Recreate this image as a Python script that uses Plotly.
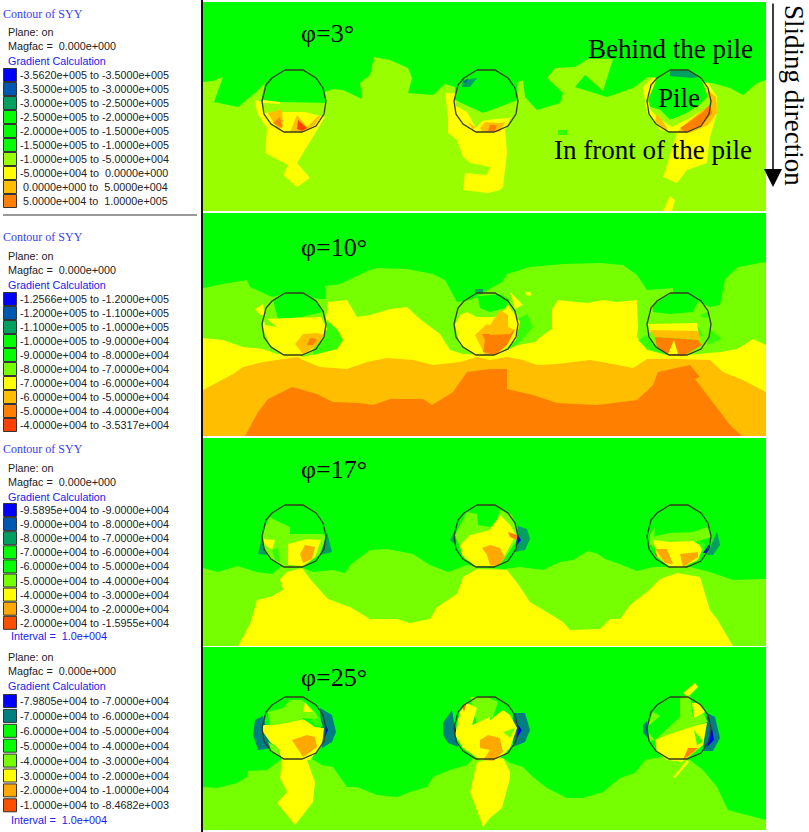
#!/usr/bin/env python3
import plotly.graph_objects as go

# colours of the contour bands
BLUE, NAVY, SEA, TEAL = '#0000ff', '#0058b0', '#00a060', '#007f80'
GREEN, MID, LIME1, LIME = '#00ff00', '#33ff00', '#99ff00', '#76ff00'
YEL, AMB, AMB2, ORG, RED = '#ffff00', '#ffbf00', '#ffa800', '#ff8000', '#ff4000'

# legend tables
leg1_labels = ['-3.5620e+005 to -3.5000e+005', '-3.5000e+005 to -3.0000e+005', '-3.0000e+005 to -2.5000e+005',
               '-2.5000e+005 to -2.0000e+005', '-2.0000e+005 to -1.5000e+005', '-1.5000e+005 to -1.0000e+005',
               '-1.0000e+005 to -5.0000e+004', '-5.0000e+004 to  0.0000e+000', ' 0.0000e+000 to  5.0000e+004',
               ' 5.0000e+004 to  1.0000e+005']
leg1_colors = [BLUE, NAVY, SEA, GREEN, GREEN, GREEN, LIME1, YEL, AMB, ORG]
leg2_labels = ['-1.2566e+005 to -1.2000e+005', '-1.2000e+005 to -1.1000e+005', '-1.1000e+005 to -1.0000e+005',
               '-1.0000e+005 to -9.0000e+004', '-9.0000e+004 to -8.0000e+004', '-8.0000e+004 to -7.0000e+004',
               '-7.0000e+004 to -6.0000e+004', '-6.0000e+004 to -5.0000e+004', '-5.0000e+004 to -4.0000e+004',
               '-4.0000e+004 to -3.5317e+004']
leg2_colors = [BLUE, NAVY, SEA, GREEN, GREEN, LIME, YEL, AMB, ORG, RED]
leg3_labels = ['-9.5895e+004 to -9.0000e+004', '-9.0000e+004 to -8.0000e+004', '-8.0000e+004 to -7.0000e+004',
               '-7.0000e+004 to -6.0000e+004', '-6.0000e+004 to -5.0000e+004', '-5.0000e+004 to -4.0000e+004',
               '-4.0000e+004 to -3.0000e+004', '-3.0000e+004 to -2.0000e+004', '-2.0000e+004 to -1.5955e+004']
leg3_colors = [BLUE, NAVY, SEA, GREEN, GREEN, LIME, YEL, AMB2, '#ff5000']
leg4_labels = ['-7.9805e+004 to -7.0000e+004', '-7.0000e+004 to -6.0000e+004', '-6.0000e+004 to -5.0000e+004',
               '-5.0000e+004 to -4.0000e+004', '-4.0000e+004 to -3.0000e+004', '-3.0000e+004 to -2.0000e+004',
               '-2.0000e+004 to -1.0000e+004', '-1.0000e+004 to -8.4682e+003']
leg4_colors = [BLUE, TEAL, GREEN, GREEN, LIME, YEL, AMB2, '#ff5000']

# pile outline, offsets from the pile centre
pile_dx = [-9, 9, 22, 29, 32, 30, 22, 8, -10, -23, -30, -32, -28, -22, -9]
pile_dy = [-31, -31, -23, -13, 0, 13, 25, 31, 31, 23, 13, 0, -16, -23, -31]
pile_x = [294, 486, 679]
pile_y = [101, 324, 536, 728]

# panel 1, phi = 3
p1_rect = [(203, 2), (766, 2), (766, 211), (203, 211)]
p1_halo_a = [(255, 100), (257, 113), (267, 128), (265, 153), (288, 165), (283, 175), (297, 187), (310, 178), (297, 163), (316, 132), (325, 117)]
p1_halo_b = [(445, 93), (448, 117), (448, 133), (457, 140), (463, 157), (470, 163), (490, 167), (487, 175), (465, 173), (463, 190), (488, 193), (500, 190), (503, 187), (507, 153), (505, 130), (512, 115), (512, 95)]
p1_halo_c = [(653, 77), (643, 87), (647, 113), (660, 130), (677, 133), (663, 177), (677, 183), (687, 170), (707, 163), (710, 137), (717, 113), (717, 97), (708, 83)]
p1_sliver = [(663, 211), (670, 196), (675, 200), (672, 211)]
p1_green = [(203, 82), (213, 81), (223, 77), (214, 102), (238, 107), (255, 93), (265, 83), (261, 102), (326, 103), (325, 92), (333, 89), (343, 90), (362, 99), (360, 83), (370, 75), (374, 57), (390, 60), (408, 68), (412, 78), (408, 93), (433, 95), (445, 84), (455, 87), (455, 100), (467, 107), (483, 113), (500, 108), (510, 103), (518, 100), (517, 83), (523, 80), (525, 97), (537, 110), (560, 103), (563, 93), (547, 78), (555, 68), (575, 67), (588, 59), (613, 59), (603, 91), (585, 75), (575, 87), (607, 97), (633, 88), (648, 77), (712, 83), (730, 88), (743, 95), (757, 83), (766, 80), (766, 2), (203, 2)]
p1_spot = [(558, 130), (567, 130), (567, 135), (558, 135)]
p1a_lime = [(261, 102), (326, 103), (322, 112), (283, 112), (265, 113)]
p1a_streak = [(263, 100), (280, 102), (280, 104), (263, 103)]
p1a_amb1 = [(268, 113), (282, 109), (283, 127), (278, 130)]
p1a_org1 = [(273, 123), (280, 117), (282, 128)]
p1a_amb2 = [(297, 115), (307, 127), (317, 117), (321, 115), (315, 125), (302, 132), (290, 132)]
p1a_red = [(297, 129), (298, 120), (307, 128), (302, 131)]
p1b_lime = [(455, 100), (483, 113), (518, 100), (510, 118), (495, 119), (482, 121), (476, 128), (467, 112), (456, 106)]
p1b_amb1 = [(480, 128), (485, 122), (500, 123), (505, 122), (500, 132), (483, 132)]
p1b_org = [(490, 125), (497, 125), (495, 131), (488, 131)]
p1b_amb2 = [(468, 122), (475, 127), (473, 130)]
p1b_sea = [(462, 87), (463, 80), (477, 78), (470, 87)]
p1b_navy = [(463, 83), (468, 78), (467, 82)]
p1c_amb1 = [(677, 132), (700, 112), (708, 90), (716, 97), (717, 113), (708, 125), (690, 133)]
p1c_org = [(680, 128), (703, 112), (710, 103), (712, 113), (702, 125), (685, 132)]
p1c_green = [(648, 100), (657, 78), (667, 72), (687, 70), (703, 83), (708, 97), (697, 107), (683, 115), (670, 120), (660, 110), (650, 107)]
p1c_lime = [(648, 107), (660, 110), (670, 120), (683, 115), (697, 107), (708, 97), (710, 105), (690, 118), (672, 127), (658, 118)]
p1c_amb2 = [(657, 113), (667, 128), (667, 130), (655, 122)]
p1c_sea = [(670, 71), (687, 70), (698, 77), (692, 78), (670, 76)]

# panel 2, phi = 10
p2_rect = [(203, 213), (766, 213), (766, 436), (203, 436)]
p2_lime = [(203, 288), (223, 284), (247, 280), (250, 287), (272, 297), (283, 294), (320, 299), (325, 299), (325, 286), (340, 284), (367, 271), (377, 268), (407, 269), (433, 274), (445, 280), (457, 302), (470, 300), (502, 282), (507, 274), (530, 267), (563, 264), (600, 263), (623, 265), (637, 275), (647, 290), (673, 288), (673, 292), (690, 298), (710, 307), (720, 305), (725, 279), (738, 267), (766, 262), (766, 436), (203, 436)]
p2_yellow = [(203, 338), (223, 340), (243, 347), (263, 349), (277, 354), (300, 355), (303, 357), (337, 349), (342, 340), (333, 325), (326, 319), (328, 302), (347, 300), (357, 317), (370, 315), (390, 309), (407, 307), (420, 319), (440, 334), (450, 350), (463, 354), (495, 355), (518, 345), (535, 342), (543, 335), (552, 329), (552, 309), (558, 300), (587, 303), (603, 300), (617, 302), (637, 300), (638, 327), (637, 337), (647, 350), (667, 355), (687, 355), (720, 352), (737, 349), (753, 339), (766, 345), (766, 436), (203, 436)]
p2_amber = [(203, 390), (233, 374), (243, 367), (263, 362), (297, 357), (303, 360), (320, 367), (347, 369), (367, 362), (387, 358), (413, 360), (433, 365), (460, 362), (477, 357), (490, 360), (507, 357), (523, 360), (537, 365), (557, 364), (590, 360), (613, 364), (633, 368), (647, 359), (677, 359), (710, 360), (723, 372), (743, 380), (766, 392), (766, 436), (203, 436)]
p2_orange = [(245, 436), (258, 412), (268, 399), (292, 387), (317, 394), (333, 402), (360, 403), (373, 405), (390, 399), (423, 399), (432, 405), (453, 392), (467, 372), (490, 369), (507, 369), (507, 389), (533, 395), (557, 403), (597, 405), (637, 400), (653, 385), (658, 372), (690, 365), (700, 377), (695, 379), (710, 399), (730, 425), (742, 436)]
p2a_green = [(273, 300), (283, 294), (302, 294), (315, 299), (323, 312), (300, 317), (278, 319)]
p2a_yel = [(263, 319), (300, 318), (321, 317), (327, 329), (313, 349), (303, 355), (283, 355), (270, 345), (263, 329)]
p2a_yel2 = [(255, 309), (263, 304), (265, 315), (260, 315)]
p2a_lime = [(263, 316), (277, 327), (265, 325)]
p2a_amb = [(295, 344), (303, 334), (317, 333), (324, 335), (315, 347), (303, 354)]
p2a_org = [(307, 345), (310, 338), (317, 339), (313, 345)]
p2a_mid = [(327, 322), (337, 329), (343, 340), (337, 349), (313, 355), (313, 347), (323, 339)]
p2b_green = [(470, 297), (500, 294), (510, 300), (505, 308), (490, 312), (480, 308), (478, 298)]
p2b_yel = [(455, 325), (460, 315), (467, 312), (477, 317), (493, 317), (500, 315), (508, 305), (520, 322), (516, 340), (497, 355), (475, 355), (460, 345)]
p2b_amb = [(475, 335), (487, 324), (490, 325), (500, 310), (508, 315), (508, 327), (515, 330), (507, 345), (495, 355), (485, 355), (480, 345)]
p2b_org = [(482, 334), (490, 334), (490, 335), (510, 334), (515, 329), (507, 345), (495, 355), (483, 352), (485, 340)]
p2b_sea = [(475, 289), (483, 289), (483, 293), (475, 293)]
p2b_mid = [(518, 319), (527, 314), (533, 327), (520, 342), (510, 349)]
p2b_yel2 = [(525, 292), (530, 292), (532, 295), (527, 296)]
p2b_yel3 = [(510, 292), (523, 305), (515, 309)]
p2c_green = [(653, 305), (670, 293), (687, 293), (698, 301), (693, 312), (670, 314), (653, 312)]
p2c_yel = [(648, 324), (697, 323), (699, 332), (650, 332)]
p2c_amb = [(650, 330), (700, 331), (700, 340), (655, 337)]
p2c_org = [(655, 337), (698, 340), (702, 345), (683, 356), (668, 355), (657, 347)]
p2c_spike = [(668, 354), (674, 340), (678, 354)]
p2c_mid1 = [(700, 315), (708, 312), (710, 317), (703, 318)]
p2c_mid2 = [(697, 325), (703, 335), (700, 337)]
p2c_mid3 = [(710, 329), (722, 339), (707, 345)]
p2c_mid4 = [(647, 335), (653, 345), (667, 355), (647, 349), (638, 340)]

# panel 3, phi = 17
p3_rect = [(203, 438), (766, 438), (766, 646), (203, 646)]
p3_lime = [(203, 568), (218, 572), (237, 566), (257, 572), (272, 574), (280, 567), (303, 568), (313, 572), (333, 570), (345, 573), (350, 565), (370, 550), (387, 549), (413, 554), (430, 565), (448, 572), (467, 565), (480, 567), (503, 569), (520, 567), (543, 570), (560, 562), (573, 560), (588, 551), (598, 554), (605, 559), (617, 563), (637, 571), (653, 567), (670, 567), (690, 567), (710, 572), (733, 580), (766, 579), (766, 646), (203, 646)]
p3_yellow = [(238, 646), (250, 624), (257, 600), (270, 597), (283, 590), (280, 579), (287, 572), (302, 568), (310, 579), (328, 599), (350, 607), (370, 619), (397, 619), (410, 623), (430, 619), (437, 607), (457, 594), (463, 577), (477, 569), (507, 570), (518, 584), (530, 602), (550, 614), (563, 622), (570, 630), (600, 629), (610, 619), (620, 619), (630, 605), (647, 592), (660, 579), (677, 573), (700, 577), (710, 610), (717, 619), (733, 646)]
p3a_sea1 = [(262, 537), (258, 554), (267, 555)]
p3a_sea2 = [(327, 532), (332, 552), (320, 555)]
p3b_sea = [(518, 526), (527, 529), (530, 539), (525, 550), (515, 552)]
p3b_sea2 = [(455, 530), (450, 540), (456, 545)]
p3b_blue = [(518, 535), (521, 540), (517, 545)]
p3c_sea = [(717, 532), (720, 545), (713, 555), (707, 555)]
p3c_blue = [(710, 543), (707, 553), (703, 553)]
p3a_lime = [(263, 534), (323, 534), (326, 537), (320, 554), (303, 567), (283, 567), (268, 557), (262, 540)]
p3a_lime2 = [(265, 527), (270, 517), (275, 520), (290, 527), (290, 534), (263, 534)]
p3a_yel = [(288, 544), (307, 539), (321, 540), (315, 557), (303, 566), (288, 565)]
p3a_amb = [(300, 554), (305, 545), (315, 547), (312, 559), (303, 563)]
p3a_yel2 = [(263, 539), (275, 540), (272, 550), (265, 545)]
p3a_green = [(272, 550), (278, 547), (280, 562), (275, 560)]
p3b_lime = [(455, 535), (467, 512), (477, 514), (478, 525), (490, 527), (497, 520), (500, 510), (512, 515), (517, 530), (517, 540), (500, 565), (465, 560)]
p3b_yel = [(460, 545), (470, 535), (490, 530), (500, 515), (510, 525), (516, 535), (505, 555), (495, 566), (475, 566), (462, 555)]
p3b_amb = [(482, 548), (490, 545), (500, 548), (505, 558), (497, 566), (490, 565), (487, 555)]
p3b_org = [(508, 532), (517, 535), (517, 540), (510, 537)]
p3c_lime = [(650, 537), (670, 533), (693, 532), (707, 527), (712, 537), (695, 542), (650, 545)]
p3c_lime2 = [(650, 535), (655, 527), (653, 550)]
p3c_yel = [(653, 540), (670, 542), (693, 541), (703, 547), (698, 560), (683, 567), (670, 567), (657, 557)]
p3c_amb1 = [(655, 549), (667, 549), (673, 564), (665, 563)]
p3c_amb2 = [(680, 554), (698, 552), (698, 557), (683, 567)]
p3c_green = [(697, 540), (705, 544), (703, 552)]
p3c_red = [(655, 552), (658, 557), (656, 556)]

# panel 4, phi = 25
p4_rect = [(203, 647), (766, 647), (766, 830), (203, 830)]
p4_lime = [(203, 787), (217, 788), (237, 783), (247, 777), (248, 771), (267, 770), (280, 760), (310, 758), (322, 765), (333, 767), (347, 787), (357, 787), (377, 795), (397, 797), (410, 792), (427, 787), (433, 777), (450, 770), (467, 765), (473, 758), (503, 758), (510, 763), (523, 767), (533, 777), (547, 788), (567, 798), (583, 798), (603, 792), (620, 778), (635, 773), (645, 760), (660, 757), (690, 760), (703, 770), (717, 787), (728, 810), (747, 815), (766, 820), (766, 830), (203, 830)]
p4_yel_a = [(282, 760), (280, 778), (287, 792), (277, 803), (295, 825), (313, 802), (315, 782), (307, 760)]
p4_yel_b = [(477, 762), (472, 782), (470, 792), (483, 827), (490, 818), (502, 808), (510, 778), (510, 772), (503, 758)]
p4_spike1 = [(683, 693), (695, 683), (698, 687), (688, 697)]
p4_spike2 = [(673, 777), (687, 760), (689, 762), (675, 778)]
p4a_teal1 = [(263, 716), (255, 720), (253, 735), (258, 750), (272, 748)]
p4a_teal2 = [(320, 708), (332, 715), (336, 732), (332, 742), (322, 748)]
p4a_blue = [(325, 723), (328, 730), (325, 737)]
p4b_teal1 = [(452, 710), (443, 723), (443, 735), (448, 743), (458, 747)]
p4b_teal2 = [(513, 713), (525, 713), (530, 730), (525, 742), (513, 747)]
p4b_blue1 = [(455, 725), (457, 735), (454, 733)]
p4b_blue2 = [(518, 725), (522, 730), (517, 738)]
p4c_teal1 = [(647, 721), (643, 725), (643, 733), (648, 738)]
p4c_teal2 = [(707, 713), (715, 717), (720, 738), (713, 751), (703, 751)]
p4c_blue = [(712, 728), (714, 740), (707, 747)]
p4a_lime = [(268, 712), (283, 708), (290, 700), (302, 700), (315, 712), (320, 720), (303, 718), (285, 725), (270, 727)]
p4a_yel = [(263, 725), (275, 725), (287, 723), (303, 719), (315, 727), (324, 728), (322, 745), (310, 760), (282, 760), (278, 748), (270, 742), (263, 732)]
p4a_amb = [(292, 740), (307, 735), (315, 737), (317, 747), (303, 757), (297, 748)]
p4a_lime2 = [(268, 742), (278, 748), (280, 758), (272, 752)]
p4a_yel2 = [(305, 702), (313, 712), (303, 712)]
p4a_green = [(310, 720), (320, 717), (323, 727), (315, 725)]
p4b_lime = [(470, 697), (487, 697), (498, 702), (493, 717), (477, 725), (473, 708)]
p4b_yel = [(460, 712), (467, 703), (477, 708), (472, 725), (490, 717), (490, 720), (503, 710), (510, 715), (517, 728), (510, 748), (500, 758), (490, 761), (480, 760), (463, 748), (455, 735)]
p4b_amb = [(480, 740), (488, 735), (500, 738), (503, 752), (493, 761), (483, 760), (490, 750), (480, 748)]
p4b_org = [(462, 706), (467, 702), (464, 712)]
p4b_lime2 = [(503, 732), (515, 728), (510, 738)]
p4c_lime = [(655, 740), (680, 717), (680, 698), (690, 695), (693, 717), (703, 713), (708, 722), (697, 725), (670, 735)]
p4c_yel = [(655, 740), (667, 735), (697, 725), (707, 723), (703, 745), (690, 755), (682, 762), (667, 760), (657, 752)]
p4c_yel2 = [(692, 703), (698, 703), (705, 712), (694, 718)]
p4c_green = [(694, 730), (703, 742), (697, 745)]
p4c_org = [(683, 760), (688, 748), (698, 748), (690, 755)]
p4c_lime2 = [(647, 727), (660, 716), (653, 712)]
p4c_lime3 = [(648, 732), (655, 740), (650, 741)]

# draw order, back to front
regions = [
    (LIME1, p1_rect), (YEL, p1_halo_a), (YEL, p1_halo_b), (YEL, p1_halo_c), (YEL, p1_sliver), (GREEN, p1_green), (MID, p1_spot),
    (LIME1, p1a_lime), (YEL, p1a_streak), (AMB, p1a_amb1), (ORG, p1a_org1), (AMB, p1a_amb2), (RED, p1a_red),
    (LIME1, p1b_lime), (AMB, p1b_amb1), (ORG, p1b_org), (AMB, p1b_amb2), (SEA, p1b_sea), (NAVY, p1b_navy),
    (AMB, p1c_amb1), (ORG, p1c_org), (GREEN, p1c_green), (LIME1, p1c_lime), (AMB, p1c_amb2), (SEA, p1c_sea),
    (GREEN, p2_rect), (LIME, p2_lime), (YEL, p2_yellow), (AMB, p2_amber), (ORG, p2_orange),
    (MID, p2a_mid), (GREEN, p2a_green), (YEL, p2a_yel), (YEL, p2a_yel2), (LIME, p2a_lime), (AMB, p2a_amb), (ORG, p2a_org),
    (MID, p2b_mid), (GREEN, p2b_green), (YEL, p2b_yel), (AMB, p2b_amb), (ORG, p2b_org), (SEA, p2b_sea), (YEL, p2b_yel2), (YEL, p2b_yel3),
    (MID, p2c_mid3), (MID, p2c_mid4), (GREEN, p2c_green), (YEL, p2c_yel), (AMB, p2c_amb), (ORG, p2c_org), (YEL, p2c_spike), (MID, p2c_mid1), (MID, p2c_mid2),
    (GREEN, p3_rect), (LIME, p3_lime), (YEL, p3_yellow),
    (SEA, p3a_sea1), (SEA, p3a_sea2), (SEA, p3b_sea), (SEA, p3b_sea2), (BLUE, p3b_blue), (SEA, p3c_sea), (BLUE, p3c_blue),
    (LIME, p3a_lime), (LIME, p3a_lime2), (YEL, p3a_yel), (AMB2, p3a_amb), (YEL, p3a_yel2), (MID, p3a_green),
    (LIME, p3b_lime), (YEL, p3b_yel), (AMB2, p3b_amb), (ORG, p3b_org),
    (LIME, p3c_lime), (LIME, p3c_lime2), (YEL, p3c_yel), (AMB2, p3c_amb1), (AMB2, p3c_amb2), (MID, p3c_green), (RED, p3c_red),
    (GREEN, p4_rect), (LIME, p4_lime), (YEL, p4_yel_a), (YEL, p4_yel_b), (YEL, p4_spike1), (YEL, p4_spike2),
    (TEAL, p4a_teal1), (TEAL, p4a_teal2), (BLUE, p4a_blue), (TEAL, p4b_teal1), (TEAL, p4b_teal2), (BLUE, p4b_blue1), (BLUE, p4b_blue2),
    (TEAL, p4c_teal1), (TEAL, p4c_teal2), (BLUE, p4c_blue),
    (LIME, p4a_lime), (YEL, p4a_yel), (AMB2, p4a_amb), (LIME, p4a_lime2), (YEL, p4a_yel2), (MID, p4a_green),
    (LIME, p4b_lime), (YEL, p4b_yel), (AMB2, p4b_amb), (ORG, p4b_org), (LIME, p4b_lime2),
    (LIME, p4c_lime), (YEL, p4c_yel), (YEL, p4c_yel2), (MID, p4c_green), (ORG, p4c_org), (LIME, p4c_lime2), (LIME, p4c_lime3),
]

fig = go.Figure()

for color, poly in regions:
    fig.add_trace(go.Scatter(
        x=[p[0] for p in poly] + [poly[0][0]],
        y=[p[1] for p in poly] + [poly[0][1]],
        mode='lines', fill='toself', fillcolor=color,
        line=dict(width=0, color=color), hoverinfo='skip', showlegend=False,
    ))

# piles
for cy in pile_y:
    for cx in pile_x:
        fig.add_trace(go.Scatter(
            x=[cx + d for d in pile_dx], y=[cy + d for d in pile_dy],
            mode='lines', line=dict(color='#3a3a20', width=1.3),
            hoverinfo='skip', showlegend=False,
        ))

annotations = []


def label(x, y, text, size=10.8, color='#222222', family='Liberation Sans', anchor='left', angle=0):
    annotations.append(dict(x=x, y=y, text=text, showarrow=False, xanchor=anchor, yanchor='middle',
                            textangle=angle, borderpad=0,
                            font=dict(size=size, color=color, family=family)))


# legend blocks: labels, colours, title y, plane y, first row y, row step, interval y
legends = [
    (leg1_labels, leg1_colors, 14, 32, 75, 14.0, None),
    (leg2_labels, leg2_colors, 237, 256, 299, 14.0, None),
    (leg3_labels, leg3_colors, 449, 468, 510, 14.1, 636),
    (leg4_labels, leg4_colors, None, 657, 701, 14.9, 820),
]
for labels, colors, title_y, plane_y, row_y, step, interval_y in legends:
    if title_y is not None:
        label(2, title_y, 'Contour of SYY', size=12, color='#3c3cf0', family='Liberation Serif')
    label(7, plane_y, 'Plane: on')
    label(7, plane_y + 14, 'Magfac =  0.000e+000')
    label(7, plane_y + 28.5, 'Gradient Calculation', color='#2020f0')
    rows = [row_y + i * step for i in range(len(labels))]
    fig.add_trace(go.Scatter(
        x=[10] * len(rows), y=rows, mode='markers',
        marker=dict(symbol='square', size=13, color=colors, line=dict(color='#333333', width=1)),
        hoverinfo='skip', showlegend=False,
    ))
    for ry, t in zip(rows, labels):
        label(19, ry, t.replace(' ', '&nbsp;') if t.startswith(' ') else t)
    if interval_y is not None:
        label(10, interval_y, 'Interval =  1.0e+004', color='#2020f0')

# big serif labels
SERIF = 'Liberation Serif'
label(300, 33, 'φ=3°', size=26, color='black', family=SERIF)
label(300, 247, 'φ=10°', size=26, color='black', family=SERIF)
label(300, 469, 'φ=17°', size=26, color='black', family=SERIF)
label(300, 677, 'φ=25°', size=26, color='black', family=SERIF)
label(587, 49, 'Behind the pile', size=27, color='black', family=SERIF)
label(657, 98, 'Pile', size=27, color='black', family=SERIF)
label(553, 150, 'In front of the pile', size=27, color='black', family=SERIF)
label(794, 95, 'Sliding direction', size=27, color='black', family=SERIF, anchor='center', angle=90)

# frame lines and the arrow
fig.add_trace(go.Scatter(x=[202, 202], y=[0, 832], mode='lines', line=dict(color='#111111', width=2),
                         hoverinfo='skip', showlegend=False))
fig.add_trace(go.Scatter(x=[3, 197], y=[215, 215], mode='lines', line=dict(color='#777777', width=1.5),
                         hoverinfo='skip', showlegend=False))
annotations.append(dict(x=773, y=187, ax=773, ay=2, xref='x', yref='y', axref='x', ayref='y', text='',
                        showarrow=True, arrowhead=2, arrowsize=2.4, arrowwidth=1.5, arrowcolor='black'))

fig.update_layout(
    width=809, height=832, margin=dict(l=0, r=0, t=0, b=0),
    paper_bgcolor='white', plot_bgcolor='white', showlegend=False,
    xaxis=dict(range=[0, 809], visible=False, fixedrange=True),
    yaxis=dict(range=[832, 0], visible=False, fixedrange=True),
    annotations=annotations,
)

fig.write_html("out.html", config=dict(displayModeBar=False), post_script="document.body.style.margin='0';")
